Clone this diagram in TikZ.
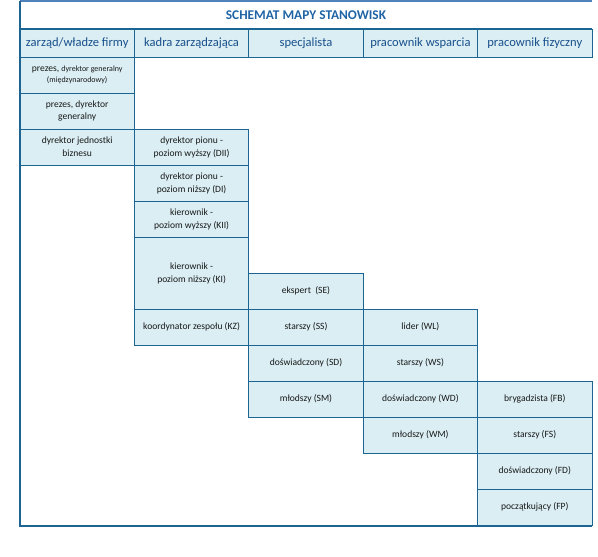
\documentclass[tikz,border=0pt]{standalone}
\usepackage{fontspec}
\setmainfont{Carlito}
\definecolor{lineblue}{RGB}{28,100,145}
\definecolor{topblue}{RGB}{79,129,189}
\definecolor{cellfill}{RGB}{218,238,243}
\definecolor{headtext}{RGB}{25,80,140}
\definecolor{titletext}{RGB}{31,100,165}
\definecolor{bodytext}{RGB}{25,25,25}
\begin{document}
\begin{tikzpicture}[x=1bp,y=-1bp,
  cellbox/.style={draw=lineblue,line width=0.9bp,fill=cellfill,inner sep=1bp,
    minimum width=114.4bp,minimum height=36bp,align=center,text=bodytext,
    font=\fontsize{9.6}{13}\selectfont},
  headbox/.style={cellbox,minimum height=28bp,text=headtext,font=\fontsize{12.6}{14}\selectfont},
  tallbox/.style={cellbox,minimum height=72bp},
  frame/.style={draw=lineblue,line width=1.4bp}]
\useasboundingbox (0,0) rectangle (598,557);
% title
\node[text=titletext,font=\fontsize{13.4}{15}\selectfont\bfseries] (title) at (306,15) {SCHEMAT MAPY STANOWISK};
% headers
\node[headbox] (h1) at (77.2,43) {zarząd/władze firmy};
\node[headbox] (h2) at (191.6,43) {kadra zarządzająca};
\node[headbox] (h3) at (306,43) {specjalista};
\node[headbox] (h4) at (420.4,43) {pracownik wsparcia};
\node[headbox] (h5) at (534.8,43) {pracownik fizyczny};
% column 1
\node[cellbox] (a1) at (77.2,75) {prezes, {\fontsize{8}{10}\selectfont dyrektor generalny}\\[-2bp]{\fontsize{8}{10}\selectfont(międzynarodowy)}};
\node[cellbox] (a2) at (77.2,111) {prezes, dyrektor\\generalny};
\node[cellbox] (a3) at (77.2,147) {dyrektor jednostki\\biznesu};
% column 2
\node[cellbox] (b1) at (191.6,147) {dyrektor pionu -\\poziom wyższy (DII)};
\node[cellbox] (b2) at (191.6,183) {dyrektor pionu -\\poziom niższy (DI)};
\node[cellbox] (b3) at (191.6,219) {kierownik -\\poziom wyższy (KII)};
\node[tallbox] (b4) at (191.6,273) {kierownik -\\poziom niższy (KI)};
\node[cellbox] (b5) at (191.6,327) {koordynator zespołu (KZ)};
% column 3
\node[cellbox] (c1) at (306,291) {ekspert\ \ (SE)};
\node[cellbox] (c2) at (306,327) {starszy (SS)};
\node[cellbox] (c3) at (306,363) {doświadczony (SD)};
\node[cellbox] (c4) at (306,399) {młodszy (SM)};
% column 4
\node[cellbox] (d1) at (420.4,327) {lider (WL)};
\node[cellbox] (d2) at (420.4,363) {starszy (WS)};
\node[cellbox] (d3) at (420.4,399) {doświadczony (WD)};
\node[cellbox] (d4) at (420.4,435) {młodszy (WM)};
% column 5
\node[cellbox] (e1) at (534.8,399) {brygadzista (FB)};
\node[cellbox] (e2) at (534.8,435) {starszy (FS)};
\node[cellbox] (e3) at (534.8,471) {doświadczony (FD)};
\node[cellbox] (e4) at (534.8,507) {początkujący (FP)};
% frame
\coordinate (tl) at (20,1);
\coordinate (tr) at (592,1);
\coordinate (bl) at (20,526);
\coordinate (br) at (592,526);
\draw[draw=topblue,line width=1.4bp] (tl) -- (tr);
\draw[frame] (h1.north west) -- (h5.north east);
\draw[frame] (h1.south west) -- (h5.south east);
\draw[frame] (tl) -- (bl) -- (br);
\draw[frame] (a3.south west) -- (a3.south east);
\end{tikzpicture}
\end{document}
